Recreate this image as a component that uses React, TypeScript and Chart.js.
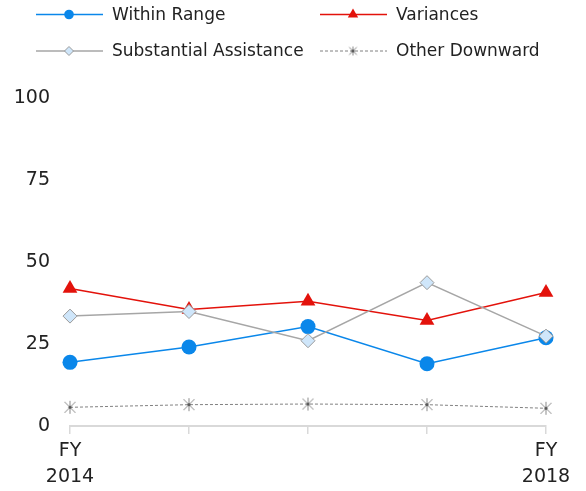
import React, { useEffect, useRef } from "react";
import { Chart, registerables } from "chart.js";

Chart.register(...registerables);

const categories = ["FY 2014", "FY 2015", "FY 2016", "FY 2017", "FY 2018"];
const shownLabels: (string | string[])[] = [["FY", "2014"], "", "", "", ["FY", "2018"]];
const withinRange = [19.4, 24.1, 30.3, 19.0, 26.9];
const variances = [41.9, 35.5, 38.0, 32.2, 40.7];
const substantialAssistance = [33.5, 34.9, 26.0, 43.7, 27.4];
const otherDownward = [5.7, 6.5, 6.7, 6.5, 5.4];
const yTicks = [0, 25, 50, 75, 100];

const FONT = "'DejaVu Sans', sans-serif";
const TEXT = "#222222";

function makeStar(size: number, color: string): HTMLCanvasElement {
  const c = document.createElement("canvas");
  c.width = size;
  c.height = size;
  const ctx = c.getContext("2d")!;
  const m = size / 2;
  const r = size / 2 - 1;
  ctx.strokeStyle = color;
  ctx.lineWidth = 1;
  ctx.beginPath();
  ctx.moveTo(m, m - r);
  ctx.lineTo(m, m + r);
  ctx.moveTo(m - r * 0.85, m - r * 0.85);
  ctx.lineTo(m + r * 0.85, m + r * 0.85);
  ctx.moveTo(m + r * 0.85, m - r * 0.85);
  ctx.lineTo(m - r * 0.85, m + r * 0.85);
  ctx.stroke();
  ctx.fillStyle = "#555555";
  ctx.beginPath();
  ctx.arc(m, m, 1.6, 0, Math.PI * 2);
  ctx.fill();
  return c;
}

const legendPlugin = {
  id: "gridLegend",
  afterDraw(chart: any) {
    const ctx = chart.ctx as CanvasRenderingContext2D;
    const cols = [36, 320];
    const rows = [14.5, 51];
    const lineLen = 67;
    chart.data.datasets.forEach((ds: any, i: number) => {
      const x0 = cols[i % 2];
      const y = rows[Math.floor(i / 2)];
      ctx.save();
      ctx.strokeStyle = ds.borderColor;
      ctx.lineWidth = ds.borderWidth;
      ctx.setLineDash(ds.borderDash || []);
      ctx.beginPath();
      ctx.moveTo(x0, y);
      ctx.lineTo(x0 + lineLen, y);
      ctx.stroke();
      ctx.setLineDash([]);
      const mx = x0 + 33;
      ctx.fillStyle = ds.pointBackgroundColor;
      ctx.strokeStyle = ds.pointBorderColor;
      ctx.lineWidth = 1;
      const s = ds.legendMarker;
      ctx.beginPath();
      if (s === "circle") {
        ctx.arc(mx, y, 4.8, 0, Math.PI * 2);
        ctx.fill();
      } else if (s === "triangle") {
        const r = 6;
        ctx.moveTo(mx, y - r);
        ctx.lineTo(mx + r * 0.866, y + r * 0.5);
        ctx.lineTo(mx - r * 0.866, y + r * 0.5);
        ctx.closePath();
        ctx.fill();
      } else if (s === "diamond") {
        const r = 4.5;
        ctx.moveTo(mx, y - r);
        ctx.lineTo(mx + r, y);
        ctx.lineTo(mx, y + r);
        ctx.lineTo(mx - r, y);
        ctx.closePath();
        ctx.fill();
        ctx.stroke();
      } else if (s === "star") {
        const img = ds.legendImage as HTMLCanvasElement;
        ctx.drawImage(img, mx - img.width / 2, y - img.height / 2);
      }
      ctx.fillStyle = TEXT;
      ctx.font = `17px ${FONT}`;
      ctx.textAlign = "left";
      ctx.textBaseline = "middle";
      ctx.fillText(ds.label, x0 + 76, y + 1);
      ctx.restore();
    });
  },
};

export default function App() {
  const ref = useRef<HTMLCanvasElement>(null);
  useEffect(() => {
    if (!ref.current) return;
    const star = makeStar(15, "#8a8a8a");
    const starSmall = makeStar(11, "#8a8a8a");
    const chart = new Chart(ref.current, {
      type: "line",
      plugins: [legendPlugin],
      data: {
        labels: categories,
        datasets: [
          {
            label: "Within Range",
            data: withinRange,
            order: 2,
            borderColor: "#0a87ea",
            borderWidth: 1.5,
            pointStyle: "circle",
            pointRadius: 7.5,
            pointBackgroundColor: "#0a87ea",
            pointBorderColor: "#0a87ea",
            pointBorderWidth: 0,
            legendMarker: "circle",
            clip: false,
          } as any,
          {
            label: "Variances",
            data: variances,
            order: 1,
            borderColor: "#e3120b",
            borderWidth: 1.5,
            pointStyle: "triangle",
            pointRadius: 8.5,
            pointBackgroundColor: "#e3120b",
            pointBorderColor: "#e3120b",
            pointBorderWidth: 0,
            legendMarker: "triangle",
            clip: false,
          } as any,
          {
            label: "Substantial Assistance",
            data: substantialAssistance,
            order: 0,
            borderColor: "#a6a6a6",
            borderWidth: 1.5,
            pointStyle: "rectRot",
            pointRadius: 7,
            pointBackgroundColor: "#cfe6fa",
            pointBorderColor: "#9a9a9a",
            pointBorderWidth: 1,
            legendMarker: "diamond",
            clip: false,
          } as any,
          {
            label: "Other Downward",
            data: otherDownward,
            order: 3,
            borderColor: "#808080",
            borderWidth: 1,
            borderDash: [3, 2],
            pointStyle: star,
            pointRadius: 7.5,
            pointBackgroundColor: "#8a8a8a",
            pointBorderColor: "#8a8a8a",
            legendMarker: "star",
            legendImage: starSmall,
            clip: false,
          } as any,
        ],
      },
      options: {
        responsive: false,
        animation: false,
        devicePixelRatio: 1,
        layout: { padding: { left: 4, right: 40, top: 98, bottom: 1 } },
        plugins: {
          legend: { display: false },
          tooltip: { enabled: false },
        },
        elements: { line: { tension: 0 } },
        scales: {
          x: {
            type: "category",
            offset: false,
            afterFit: (axis: any) => {
              axis.height = 64;
            },
            grid: {
              display: true,
              drawOnChartArea: false,
              drawTicks: true,
              tickLength: 8,
              color: "#d9d9d9",
              lineWidth: 1.5,
            },
            border: { display: true, color: "#d9d9d9", width: 2 },
            ticks: {
              autoSkip: false,
              maxRotation: 0,
              padding: 4,
              color: TEXT,
              font: { family: FONT, size: 19, lineHeight: 1.37 },
              callback: (_v: any, i: number) => shownLabels[i],
            },
          },
          y: {
            min: yTicks[0],
            max: yTicks[yTicks.length - 1],
            grid: { display: false, drawTicks: false, tickLength: 0 },
            border: { display: false },
            afterFit: (axis: any) => {
              axis.width = 66;
            },
            afterBuildTicks: (axis: any) => {
              axis.ticks = yTicks.map((v) => ({ value: v }));
            },
            ticks: {
              padding: 20,
              color: TEXT,
              font: { family: FONT, size: 19 },
            },
          },
        },
      },
    });
    return () => chart.destroy();
  }, []);
  return (
    <div style={{ position: "absolute", left: 0, top: 0, width: 586, height: 491, background: "#fff" }}>
      <canvas ref={ref} width={586} height={491} style={{ width: 586, height: 491 }} />
    </div>
  );
}
